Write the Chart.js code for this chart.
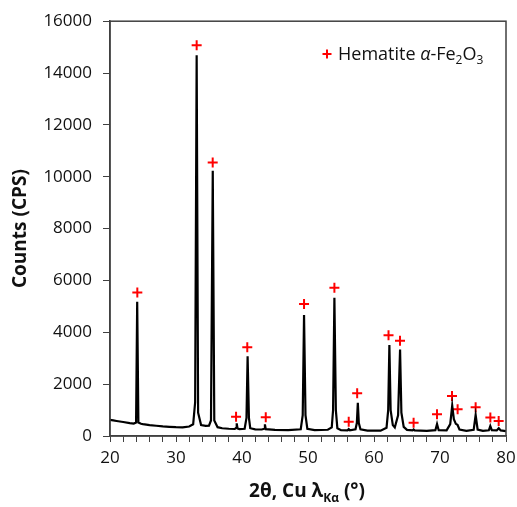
<!DOCTYPE html>
<html lang="en">
<head>
<meta charset="UTF-8">
<title>Hematite XRD pattern</title>
<script src="https://cdn.jsdelivr.net/npm/chart.js"></script>
<style>
  html, body { margin: 0; padding: 0; background: #fff; }
  .chart-container { width: 517px; height: 507px; }
</style>
</head>
<body>
<div class="chart-container"><canvas id="xrdChart"></canvas></div>
<script>
// Measured pattern (2theta in degrees, counts in CPS)
const twoTheta = [20.0, 20.5, 21.0, 22.0, 23.0, 23.6, 23.95, 24.12, 24.3, 24.7,
  25.0, 26.0, 27.0, 28.0, 29.0, 30.0, 31.0, 32.0, 32.6, 32.9, 33.13, 33.35, 33.8,
  34.5, 35.0, 35.3, 35.57, 35.8, 36.3, 37.0, 38.0, 38.9, 39.1, 39.2, 39.32,
  39.6, 40.4, 40.68, 40.85, 41.05, 41.25, 42.0, 43.0, 43.35, 43.47, 43.6, 45.0, 47.0,
  48.9, 49.2, 49.4, 49.62, 49.9, 51.0, 53.0, 53.6, 53.8, 54.0, 54.22, 54.45, 55.0,
  56.0, 56.17, 56.35, 57.2, 57.4, 57.55, 57.7, 57.95, 59.0, 61.0, 61.9, 62.15, 62.33,
  62.52, 62.85, 63.15, 63.65, 63.95, 64.15, 64.5, 65.0, 65.85, 66.0, 66.15, 68.0,
  69.3, 69.55, 69.8, 71.0, 71.55, 71.85, 72.1, 72.4, 72.65, 72.95, 74.0, 75.1, 75.4,
  75.7, 76.5, 77.4, 77.62, 77.85, 78.6, 78.9, 79.2, 80.0];
const counts = [620, 600, 580, 540, 500, 480, 520, 5180, 520, 470,
  455, 420, 395, 370, 355, 340, 335, 365, 450, 1300, 14690, 900, 420,
  390, 400, 600, 10230, 600, 340, 300, 280, 270, 310, 490, 290,
  265, 280, 700, 3080, 700, 300, 255, 250, 280, 450, 265, 240, 230,
  260, 800, 4670, 800, 280, 230, 240, 330, 1000, 5330, 1000, 300, 225,
  220, 265, 220, 260, 500, 1280, 500, 260, 210, 205, 320, 1000, 3510,
  1000, 420, 330, 800, 3340, 900, 350, 235, 215, 250, 215, 200,
  225, 460, 225, 220, 460, 1170, 650, 470, 430, 250, 200, 240, 810,
  250, 200, 220, 385, 225, 215, 300, 215, 190];

// Hematite reference markers
const hematiteTheta = [24.14, 33.13, 35.56, 39.1, 40.8, 43.6, 49.4, 54.0, 56.17, 57.45,
  62.2, 63.94, 66.0, 69.55, 71.82, 72.67, 75.4, 77.63, 78.89];
const hematiteCounts = [5540, 15070, 10550, 745, 3420, 720, 5090, 5720, 550, 1650,
  3890, 3670, 510, 840, 1540, 1030, 1110, 710, 580];

const xMin = 20, xMax = 80, xLabelStep = 10, xMinorStep = 2;
const yMin = 0, yMax = 16000, yStep = 2000;

const axisColor = '#404040';
const tickFont = { family: 'Open Sans', size: 17 };

// frame round the plot area
const frameBox = {
  id: 'frameBox',
  afterDatasetsDraw(chart) {
    const { ctx, chartArea: a } = chart;
    ctx.save();
    ctx.strokeStyle = axisColor;
    ctx.lineWidth = 1.5;
    ctx.strokeRect(a.left, a.top, a.right - a.left, a.bottom - a.top);
    ctx.restore();
  }
};

// legend and x title need subscripts, drawn by hand
function drawRuns(ctx, runs, x, y) {
  runs.forEach(r => {
    ctx.font = r.font;
    ctx.fillText(r.text, x, y + (r.dy || 0));
    x += ctx.measureText(r.text).width;
  });
  return x;
}
function runsWidth(ctx, runs) {
  let w = 0;
  runs.forEach(r => { ctx.font = r.font; w += ctx.measureText(r.text).width; });
  return w;
}

const textExtras = {
  id: 'textExtras',
  afterDraw(chart) {
    const { ctx } = chart;
    ctx.save();
    // legend
    ctx.strokeStyle = '#ff0000';
    ctx.lineWidth = 2;
    const mx = 327, my = 54;
    ctx.beginPath();
    ctx.moveTo(mx - 4.5, my); ctx.lineTo(mx + 4.5, my);
    ctx.moveTo(mx, my - 4.5); ctx.lineTo(mx, my + 4.5);
    ctx.stroke();
    ctx.fillStyle = '#111';
    ctx.textBaseline = 'alphabetic';
    ctx.textAlign = 'left';
    const f = '18px "Open Sans"', fs = '12px "Open Sans"';
    drawRuns(ctx, [
      { text: 'Hematite ', font: f },
      { text: 'α', font: 'italic ' + f },
      { text: '-Fe', font: f },
      { text: '2', font: fs, dy: 4 },
      { text: 'O', font: f },
      { text: '3', font: fs, dy: 4 }
    ], 338, 60);

    // x axis title
    const b = 'bold 19px "Open Sans"', bs = 'bold 12px "Open Sans"';
    const title = [
      { text: '2θ, Cu λ', font: b },
      { text: 'Kα', font: bs, dy: 5 },
      { text: ' (°)', font: b }
    ];
    const w = runsWidth(ctx, title);
    drawRuns(ctx, title, 307 - w / 2, 497);
    ctx.restore();
  }
};

new Chart(document.getElementById('xrdChart'), {
  type: 'line',
  data: {
    datasets: [{
      label: 'XRD pattern',
      data: twoTheta.map((t, i) => ({ x: t, y: counts[i] })),
      borderColor: '#000',
      borderWidth: 2.2,
      pointRadius: 0,
      tension: 0,
      fill: false
    }, {
      type: 'scatter',
      label: 'Hematite α-Fe2O3',
      data: hematiteTheta.map((t, i) => ({ x: t, y: hematiteCounts[i] })),
      pointStyle: 'cross',
      pointRadius: 5,
      borderColor: '#ff0000',
      backgroundColor: '#ff0000',
      pointBorderWidth: 2,
      showLine: false
    }]
  },
  options: {
    responsive: true,
    maintainAspectRatio: false,
    animation: false,
    layout: { padding: { top: 21, right: 11, left: 0, bottom: 0 } },
    plugins: {
      legend: { display: false },
      tooltip: { enabled: false }
    },
    scales: {
      x: {
        type: 'linear',
        min: xMin,
        max: xMax,
        afterFit(scale) {
          scale.height = 71;
          scale.paddingLeft = 0;
          scale.paddingRight = 0;
        },
        border: { color: axisColor, width: 1.5 },
        grid: { drawOnChartArea: false, drawTicks: true, tickLength: 6, color: axisColor, tickWidth: 1 },
        ticks: {
          stepSize: xMinorStep,
          autoSkip: false,
          maxRotation: 0,
          padding: 6,
          color: '#111',
          font: tickFont,
          callback: v => (v % xLabelStep === 0 ? String(v) : '')
        }
      },
      y: {
        min: yMin,
        max: yMax,
        afterFit(scale) { scale.width = 110; },
        border: { color: axisColor, width: 1.5 },
        grid: { drawOnChartArea: false, drawTicks: true, tickLength: 7, color: axisColor },
        title: {
          display: true,
          text: 'Counts (CPS)',
          color: '#111',
          font: { family: 'Open Sans', size: 19, weight: 'bold' },
          padding: { top: 9, bottom: 0 }
        },
        ticks: {
          stepSize: yStep,
          padding: 11,
          color: '#111',
          font: tickFont,
          callback: v => String(v)
        }
      }
    }
  },
  plugins: [frameBox, textExtras]
});
</script>
</body>
</html>
